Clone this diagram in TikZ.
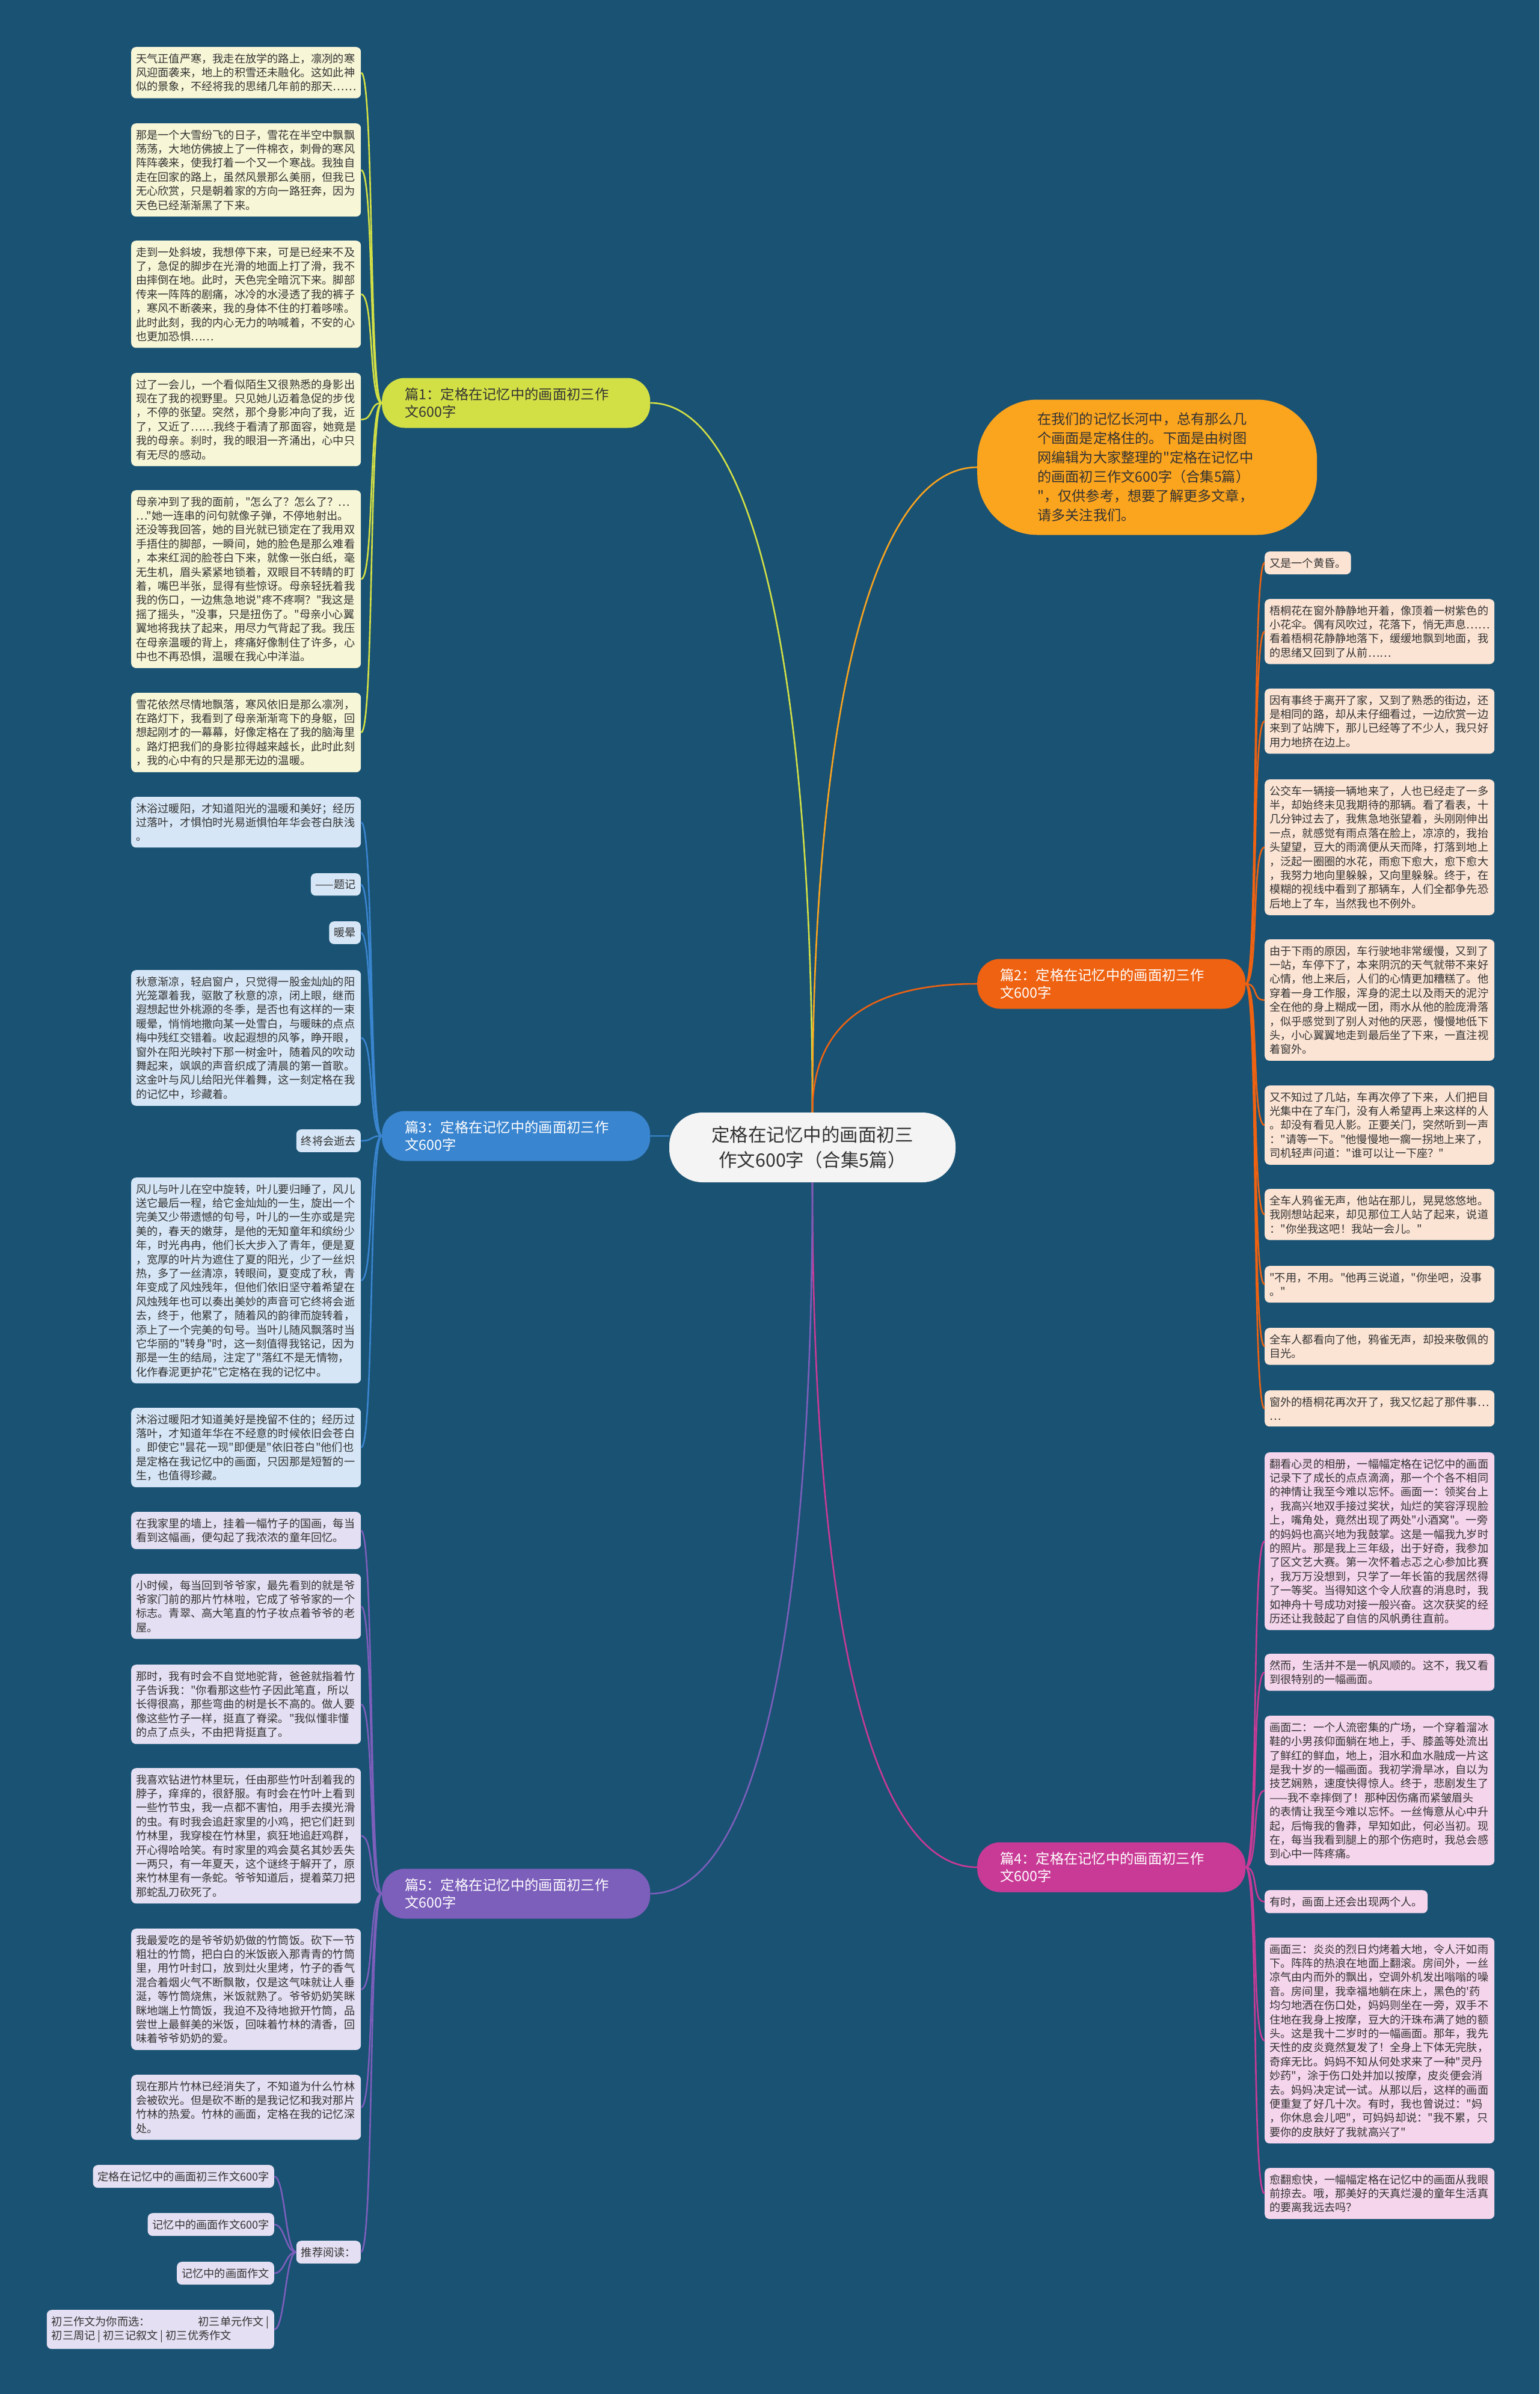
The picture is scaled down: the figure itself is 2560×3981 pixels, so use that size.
\documentclass[tikz,border=0pt]{standalone}
\usepackage{fontspec}
\setmainfont{Noto Sans CJK SC}[Ligatures=TeXOff]
\definecolor{bgblue}{HTML}{195273}
\definecolor{rootfill}{HTML}{F4F4F4}
\definecolor{introfill}{HTML}{FBA41E}
\definecolor{yelfill}{HTML}{D3E045}
\definecolor{yelbox}{HTML}{F7F6D6}
\definecolor{yeltext}{HTML}{4F5A1F}
\definecolor{redfill}{HTML}{EE6211}
\definecolor{peachbox}{HTML}{FCE4D4}
\definecolor{bluefill}{HTML}{3A85CF}
\definecolor{bluebox}{HTML}{D6E6F6}
\definecolor{pinkfill}{HTML}{C93A96}
\definecolor{pinkbox}{HTML}{F5D5EC}
\definecolor{purfill}{HTML}{7C5EBB}
\definecolor{purbox}{HTML}{E4DFF2}
\definecolor{darktext}{HTML}{333333}
\begin{document}
\begin{tikzpicture}[x=1pt,y=-1pt,
  txt/.style={rounded corners=8pt,inner xsep=8pt,inner ysep=10.5pt,align=left,
    text=darktext,font=\fontsize{18.2pt}{23.4pt}\selectfont},
  para/.style={txt,text width=366pt,anchor=north west},
  tag/.style={txt,anchor=north east},
  lab/.style={rounded corners=38pt,inner xsep=38pt,inner ysep=10pt,minimum height=83pt,
    text width=370pt,align=left,anchor=west,text=white,font=\fontsize{23.3pt}{29.5pt}\selectfont},
  link/.style={line width=2.6pt}]

  % Background
  \fill[bgblue] (0,0) rectangle (2560,3981);

  % Centre and intro
  \node[fill=rootfill,text=darktext,rounded corners=55pt,minimum height=116pt,text width=400pt,
    inner xsep=38pt,align=center,font=\fontsize{30.5pt}{42pt}\selectfont] (root) at (1351,1908)
    {定格在记忆中的画面初三\\作文600字（合集5篇）};
  \node[fill=introfill,text=darktext,rounded corners=100pt,minimum height=225pt,text width=365pt,
    inner xsep=100pt,align=left,anchor=west,font=\fontsize{23.2pt}{32pt}\selectfont] (intro) at (1625,777)
    {在我们的记忆长河中，总有那么几\\个画面是定格住的。下面是由树图\\网编辑为大家整理的"定格在记忆中\\的画面初三作文600字（合集5篇）\\"，仅供参考，想要了解更多文章，\\请多关注我们。};

  % Branch labels
  \node[lab,fill=yelfill,text=darktext] (t1) at (635,670) {篇1：定格在记忆中的画面初三作\\文600字};
  \node[lab,fill=redfill] (t2) at (1625,1636) {篇2：定格在记忆中的画面初三作\\文600字};
  \node[lab,fill=bluefill] (t3) at (635,1889) {篇3：定格在记忆中的画面初三作\\文600字};
  \node[lab,fill=pinkfill] (t4) at (1625,3105) {篇4：定格在记忆中的画面初三作\\文600字};
  \node[lab,fill=purfill] (t5) at (635,3149) {篇5：定格在记忆中的画面初三作\\文600字};

  % Branch 1
  \begin{scope}[every node/.append style={fill=yelbox,text=yeltext}]
  \node[para] (y1) at (218,78) {天气正值严寒，我走在放学的路上，凛冽的寒\\风迎面袭来，地上的积雪还未融化。这如此神\\似的景象，不经将我的思绪几年前的那天……};
  \node[para] (y2) at (218,205) {那是一个大雪纷飞的日子，雪花在半空中飘飘\\荡荡，大地仿佛披上了一件棉衣，刺骨的寒风\\阵阵袭来，使我打着一个又一个寒战。我独自\\走在回家的路上，虽然风景那么美丽，但我已\\无心欣赏，只是朝着家的方向一路狂奔，因为\\天色已经渐渐黑了下来。};
  \node[para] (y3) at (218,400) {走到一处斜坡，我想停下来，可是已经来不及\\了，急促的脚步在光滑的地面上打了滑，我不\\由摔倒在地。此时，天色完全暗沉下来。脚部\\传来一阵阵的剧痛，冰冷的水浸透了我的裤子\\，寒风不断袭来，我的身体不住的打着哆嗦。\\此时此刻，我的内心无力的呐喊着，不安的心\\也更加恐惧……};
  \node[para] (y4) at (218,620) {过了一会儿，一个看似陌生又很熟悉的身影出\\现在了我的视野里。只见她儿迈着急促的步伐\\，不停的张望。突然，那个身影冲向了我，近\\了，又近了……我终于看清了那面容，她竟是\\我的母亲。刹时，我的眼泪一齐涌出，心中只\\有无尽的感动。};
  \node[para] (y5) at (218,815) {母亲冲到了我的面前，"怎么了？怎么了？…\\…"她一连串的问句就像子弹，不停地射出。\\还没等我回答，她的目光就已锁定在了我用双\\手捂住的脚部，一瞬间，她的脸色是那么难看\\，本来红润的脸苍白下来，就像一张白纸，毫\\无生机，眉头紧紧地锁着，双眼目不转睛的盯\\着，嘴巴半张，显得有些惊讶。母亲轻抚着我\\我的伤口，一边焦急地说"疼不疼啊？"我这是\\摇了摇头，"没事，只是扭伤了。"母亲小心翼\\翼地将我扶了起来，用尽力气背起了我。我压\\在母亲温暖的背上，疼痛好像制住了许多，心\\中也不再恐惧，温暖在我心中洋溢。};
  \node[para] (y6) at (218,1152) {雪花依然尽情地飘落，寒风依旧是那么凛冽，\\在路灯下，我看到了母亲渐渐弯下的身躯，回\\想起刚才的一幕幕，好像定格在了我的脑海里\\。路灯把我们的身影拉得越来越长，此时此刻\\，我的心中有的只是那无边的温暖。};
  \end{scope}

  % Branch 2
  \begin{scope}[every node/.append style={fill=peachbox}]
  \node[txt,anchor=north west] (o1) at (2103,917) {又是一个黄昏。};
  \node[para] (o2) at (2103,996) {梧桐花在窗外静静地开着，像顶着一树紫色的\\小花伞。偶有风吹过，花落下，悄无声息……\\看着梧桐花静静地落下，缓缓地飘到地面，我\\的思绪又回到了从前……};
  \node[para] (o3) at (2103,1145) {因有事终于离开了家，又到了熟悉的街边，还\\是相同的路，却从未仔细看过，一边欣赏一边\\来到了站牌下，那儿已经等了不少人，我只好\\用力地挤在边上。};
  \node[para] (o4) at (2103,1296) {公交车一辆接一辆地来了，人也已经走了一多\\半，却始终未见我期待的那辆。看了看表，十\\几分钟过去了，我焦急地张望着，头刚刚伸出\\一点，就感觉有雨点落在脸上，凉凉的，我抬\\头望望，豆大的雨滴便从天而降，打落到地上\\，泛起一圈圈的水花，雨愈下愈大，愈下愈大\\，我努力地向里躲躲，又向里躲躲。终于，在\\模糊的视线中看到了那辆车，人们全都争先恐\\后地上了车，当然我也不例外。};
  \node[para] (o5) at (2103,1562) {由于下雨的原因，车行驶地非常缓慢，又到了\\一站，车停下了，本来阴沉的天气就带不来好\\心情，他上来后，人们的心情更加糟糕了。他\\穿着一身工作服，浑身的泥土以及雨天的泥泞\\全在他的身上糊成一团，雨水从他的脸庞滑落\\，似乎感觉到了别人对他的厌恶，慢慢地低下\\头，小心翼翼地走到最后坐了下来，一直注视\\着窗外。};
  \node[para] (o6) at (2103,1805) {又不知过了几站，车再次停了下来，人们把目\\光集中在了车门，没有人希望再上来这样的人\\。却没有看见人影。正要关门，突然听到一声\\："请等一下。"他慢慢地一瘸一拐地上来了，\\司机轻声问道："谁可以让一下座？"};
  \node[para] (o7) at (2103,1977) {全车人鸦雀无声，他站在那儿，晃晃悠悠地。\\我刚想站起来，却见那位工人站了起来，说道\\："你坐我这吧！我站一会儿。"};
  \node[para] (o8) at (2103,2105) {"不用，不用。"他再三说道，"你坐吧，没事\\。"};
  \node[para] (o9) at (2103,2208) {全车人都看向了他，鸦雀无声，却投来敬佩的\\目光。};
  \node[para] (o10) at (2103,2312) {窗外的梧桐花再次开了，我又忆起了那件事…\\…};
  \end{scope}

  % Branch 3
  \begin{scope}[every node/.append style={fill=bluebox}]
  \node[para] (b1) at (218,1325) {沐浴过暖阳，才知道阳光的温暖和美好；经历\\过落叶，才惧怕时光易逝惧怕年华会苍白肤浅\\。};
  \node[tag] (b2) at (600,1452) {——题记};
  \node[tag] (b3) at (600,1532) {暖晕};
  \node[para] (b4) at (218,1613) {秋意渐凉，轻启窗户，只觉得一股金灿灿的阳\\光笼罩着我，驱散了秋意的凉，闭上眼，继而\\遐想起世外桃源的冬季，是否也有这样的一束\\暖晕，悄悄地撒向某一处雪白，与暖昧的点点\\梅中残红交错着。收起遐想的风筝，睁开眼，\\窗外在阳光映衬下那一树金叶，随着风的吹动\\舞起来，飒飒的声音织成了清晨的第一首歌。\\这金叶与风儿给阳光伴着舞，这一刻定格在我\\的记忆中，珍藏着。};
  \node[tag] (b5) at (600,1878) {终将会逝去};
  \node[para] (b6) at (218,1958) {风儿与叶儿在空中旋转，叶儿要归睡了，风儿\\送它最后一程，给它金灿灿的一生，旋出一个\\完美又少带遗憾的句号，叶儿的一生亦或是完\\美的，春天的嫩芽，是他的无知童年和缤纷少\\年，时光冉冉，他们长大步入了青年，便是夏\\，宽厚的叶片为遮住了夏的阳光，少了一丝炽\\热，多了一丝清凉，转眼间，夏变成了秋，青\\年变成了风烛残年，但他们依旧坚守着希望在\\风烛残年也可以奏出美妙的声音可它终将会逝\\去，终于，他累了，随着风的韵律而旋转着，\\添上了一个完美的句号。当叶儿随风飘落时当\\它华丽的"转身"时，这一刻值得我铭记，因为\\那是一生的结局，注定了"落红不是无情物，\\化作春泥更护花"它定格在我的记忆中。};
  \node[para] (b7) at (218,2341) {沐浴过暖阳才知道美好是挽留不住的；经历过\\落叶，才知道年华在不经意的时候依旧会苍白\\。即使它"昙花一现"即便是"依旧苍白"他们也\\是定格在我记忆中的画面，只因那是短暂的一\\生，也值得珍藏。};
  \end{scope}

  % Branch 4
  \begin{scope}[every node/.append style={fill=pinkbox}]
  \node[para] (k1) at (2103,2415) {翻看心灵的相册，一幅幅定格在记忆中的画面\\记录下了成长的点点滴滴，那一个个各不相同\\的神情让我至今难以忘怀。画面一：领奖台上\\，我高兴地双手接过奖状，灿烂的笑容浮现脸\\上，嘴角处，竟然出现了两处"小酒窝"。一旁\\的妈妈也高兴地为我鼓掌。这是一幅我九岁时\\的照片。那是我上三年级，出于好奇，我参加\\了区文艺大赛。第一次怀着忐忑之心参加比赛\\，我万万没想到，只学了一年长笛的我居然得\\了一等奖。当得知这个令人欣喜的消息时，我\\如神舟十号成功对接一般兴奋。这次获奖的经\\历还让我鼓起了自信的风帆勇往直前。};
  \node[para] (k2) at (2103,2750) {然而，生活并不是一帆风顺的。这不，我又看\\到很特别的一幅画面。};
  \node[para] (k3) at (2103,2853) {画面二：一个人流密集的广场，一个穿着溜冰\\鞋的小男孩仰面躺在地上，手、膝盖等处流出\\了鲜红的鲜血，地上，泪水和血水融成一片这\\是我十岁的一幅画面。我初学滑旱冰，自以为\\技艺娴熟，速度快得惊人。终于，悲剧发生了\\——我不幸摔倒了！那种因伤痛而紧皱眉头\\的表情让我至今难以忘怀。一丝悔意从心中升\\起，后悔我的鲁莽，早知如此，何必当初。现\\在，每当我看到腿上的那个伤疤时，我总会感\\到心中一阵疼痛。};
  \node[txt,anchor=north west] (k4) at (2103,3143) {有时，画面上还会出现两个人。};
  \node[para] (k5) at (2103,3222) {画面三：炎炎的烈日灼烤着大地，令人汗如雨\\下。阵阵的热浪在地面上翻滚。房间外，一丝\\凉气由内而外的飘出，空调外机发出嗡嗡的噪\\音。房间里，我幸福地躺在床上，黑色的'药\\均匀地洒在伤口处，妈妈则坐在一旁，双手不\\住地在我身上按摩，豆大的汗珠布满了她的额\\头。这是我十二岁时的一幅画面。那年，我先\\天性的皮炎竟然复发了！全身上下体无完肤，\\奇痒无比。妈妈不知从何处求来了一种"灵丹\\妙药"，涂于伤口处并加以按摩，皮炎便会消\\去。妈妈决定试一试。从那以后，这样的画面\\便重复了好几十次。有时，我也曾说过："妈\\，你休息会儿吧"，可妈妈却说："我不累，只\\要你的皮肤好了我就高兴了"};
  \node[para] (k6) at (2103,3605) {愈翻愈快，一幅幅定格在记忆中的画面从我眼\\前掠去。哦，那美好的天真烂漫的童年生活真\\的要离我远去吗？};
  \end{scope}

  % Branch 5
  \begin{scope}[every node/.append style={fill=purbox}]
  \node[para] (p1) at (218,2514) {在我家里的墙上，挂着一幅竹子的国画，每当\\看到这幅画，便勾起了我浓浓的童年回忆。};
  \node[para] (p2) at (218,2617) {小时候，每当回到爷爷家，最先看到的就是爷\\爷家门前的那片竹林啦，它成了爷爷家的一个\\标志。青翠、高大笔直的竹子妆点着爷爷的老\\屋。};
  \node[para] (p3) at (218,2768) {那时，我有时会不自觉地驼背，爸爸就指着竹\\子告诉我："你看那这些竹子因此笔直，所以\\长得很高，那些弯曲的树是长不高的。做人要\\像这些竹子一样，挺直了脊梁。"我似懂非懂\\的点了点头，不由把背挺直了。};
  \node[para] (p4) at (218,2940) {我喜欢钻进竹林里玩，任由那些竹叶刮着我的\\脖子，痒痒的，很舒服。有时会在竹叶上看到\\一些竹节虫，我一点都不害怕，用手去摸光滑\\的虫。有时我会追赶家里的小鸡，把它们赶到\\竹林里，我穿梭在竹林里，疯狂地追赶鸡群，\\开心得哈哈笑。有时家里的鸡会莫名其妙丢失\\一两只，有一年夏天，这个谜终于解开了，原\\来竹林里有一条蛇。爷爷知道后，提着菜刀把\\那蛇乱刀砍死了。};
  \node[para] (p5) at (218,3207) {我最爱吃的是爷爷奶奶做的竹筒饭。砍下一节\\粗壮的竹筒，把白白的米饭嵌入那青青的竹筒\\里，用竹叶封口，放到灶火里烤，竹子的香气\\混合着烟火气不断飘散，仅是这气味就让人垂\\涎，等竹筒烧焦，米饭就熟了。爷爷奶奶笑眯\\眯地端上竹筒饭，我迫不及待地掀开竹筒，品\\尝世上最鲜美的米饭，回味着竹林的清香，回\\味着爷爷奶奶的爱。};
  \node[para] (p6) at (218,3450) {现在那片竹林已经消失了，不知道为什么竹林\\会被砍光。但是砍不断的是我记忆和我对那片\\竹林的热爱。竹林的画面，定格在我的记忆深\\处。};
  \node[tag] (rec) at (600,3726) {推荐阅读：};
  \node[tag] (rec1) at (456,3600) {定格在记忆中的画面初三作文600字};
  \node[tag] (rec2) at (456,3680) {记忆中的画面作文600字};
  \node[tag] (rec3) at (456,3761) {记忆中的画面作文};
  \node[tag] (rec4) at (456,3841) {初三作文为你而选：\hspace{80pt}初三单元作文 |\\初三周记 | 初三记叙文 | 初三优秀作文};
  \end{scope}

  % Main branches
  \draw[link,yelfill] (root.north) .. controls (1351,1100) and (1250,670) .. (t1.east);
  \draw[link,introfill] (root.north) .. controls (1351,1150) and (1460,777) .. (intro.west);
  \draw[link,redfill] (root.north) .. controls (1351,1700) and (1450,1636) .. (t2.west);
  \draw[link,bluefill] (t3.east) -- (t3.east -| root.west);
  \draw[link,pinkfill] (root.south) .. controls (1351,2700) and (1450,3105) .. (t4.west);
  \draw[link,purfill] (root.south) .. controls (1351,2750) and (1250,3149) .. (t5.east);

  % Leaves
  \foreach \i in {1,...,6}
    \draw[link,yelfill] (t1.west) .. controls +(-22,0) and +(22,0) .. (y\i.east);
  \foreach \i in {1,...,10}
    \draw[link,redfill] (t2.east) .. controls +(22,0) and +(-22,0) .. (o\i.west);
  \foreach \i in {1,...,7}
    \draw[link,bluefill] (t3.west) .. controls +(-22,0) and +(22,0) .. (b\i.east);
  \foreach \i in {1,...,6}
    \draw[link,pinkfill] (t4.east) .. controls +(22,0) and +(-22,0) .. (k\i.west);
  \foreach \n in {p1,p2,p3,p4,p5,p6,rec}
    \draw[link,purfill] (t5.west) .. controls +(-22,0) and +(22,0) .. (\n.east);
  \foreach \i in {1,...,4}
    \draw[link,purfill] (rec.west) .. controls +(-18,0) and +(18,0) .. (rec\i.east);

\end{tikzpicture}
\end{document}
